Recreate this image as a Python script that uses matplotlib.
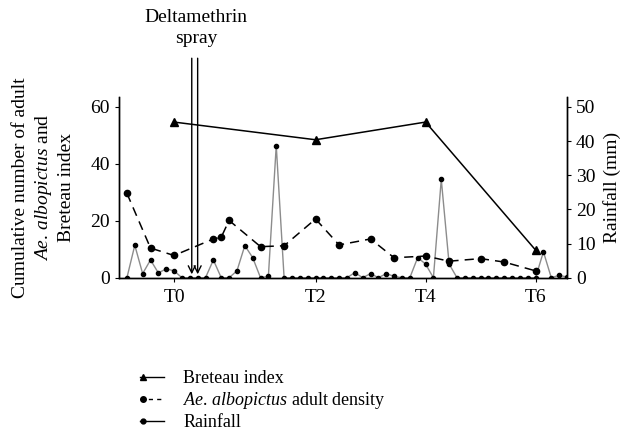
import matplotlib
matplotlib.use("Agg")
import matplotlib.pyplot as plt
from matplotlib.lines import Line2D
from matplotlib.legend_handler import HandlerLine2D

plt.rcParams['font.family'] = ['Liberation Serif', 'DejaVu Serif']
plt.rcParams['mathtext.fontset'] = 'custom'
plt.rcParams['mathtext.it'] = 'Liberation Serif:italic'
plt.rcParams['mathtext.rm'] = 'Liberation Serif'

# sampling index (one step per observation)
rain_mm = [0, 9.5, 1.2, 5.2, 1.4, 2.6, 2.0, 0, 0, 0, 0, 5.2, 0, 0, 2.0, 9.4,
           5.9, 0, 0.4, 38.7, 0, 0, 0, 0, 0, 0, 0, 0, 0, 1.5, 0, 1.2, 0, 1.2,
           0.4, 0, 0, 5.9, 4.0, 0, 28.8, 4.0, 0, 0, 0, 0, 0, 0, 0, 0, 0, 0,
           0, 7.6, 0, 0.7, 0.2]
rain_x = list(range(len(rain_mm)))

density_x = [0, 3, 6, 11, 12, 13, 17, 20, 24, 27, 31, 34, 38, 41, 45, 48, 52]
density = [29.6, 10.4, 7.8, 13.6, 14.2, 20.1, 10.9, 11.2, 20.6, 11.5, 13.6,
           7.0, 7.6, 5.8, 6.7, 5.5, 2.4]

breteau_x = [6, 24, 38, 52]
breteau = [54.6, 48.4, 54.6, 9.7]

tick_pos = [6, 24, 38, 52]
tick_labels = ['T0', 'T2', 'T4', 'T6']


class LeftMarkerHandler(HandlerLine2D):
    # marker at the left end of the legend line, as in the original figure
    def create_artists(self, legend, orig_handle, xdescent, ydescent,
                       width, height, fontsize, trans):
        y = height / 2 - ydescent
        line = Line2D([-xdescent, -xdescent + width], [y, y])
        self.update_prop(line, orig_handle, legend)
        line.set_marker('None')
        mk = Line2D([-xdescent + 2], [y])
        self.update_prop(mk, orig_handle, legend)
        mk.set_linestyle('None')
        line.set_transform(trans)
        mk.set_transform(trans)
        return [line, mk]


fig = plt.figure(figsize=(6.3, 4.37), dpi=100)
ax = fig.add_axes([0.189, 0.3645, 0.711, 0.4142])
ax2 = ax.twinx()

ax2.plot(rain_x, rain_mm, color='#8c8c8c', lw=1.0, marker='o', ms=3.0,
         mfc='black', mec='black', zorder=2)
ax.plot(density_x, density, color='black', lw=1.1, ls=(0, (6, 4)),
        marker='o', ms=4.5, zorder=3)
ax.plot(breteau_x, breteau, color='black', lw=1.1, marker='^', ms=5.5,
        zorder=4)
ax.set_zorder(ax2.get_zorder() + 1)
ax.patch.set_visible(False)

ax.set_xlim(-1, 56)
ax.set_ylim(0, 63.5)
ax2.set_ylim(0, 53)
ax.set_yticks([0, 20, 40, 60])
ax2.set_yticks([0, 10, 20, 30, 40, 50])
ax.set_xticks(tick_pos)
ax.set_xticklabels(tick_labels)

for a in (ax, ax2):
    a.spines['top'].set_visible(False)
    a.tick_params(labelsize=14, length=3, width=0.8, direction='out')
    for s in a.spines.values():
        s.set_linewidth(1.0)
ax.tick_params(axis='x', length=3, pad=5)

ax.set_ylabel('Cumulative number of adult\n$\\mathit{Ae}$. $\\mathit{albopictus}$ and\nBreteau index',
              fontsize=14, linespacing=1.3, labelpad=11)
ax2.set_ylabel('Rainfall (mm)', fontsize=14, labelpad=5)

# spray arrows
for xa in (8.25, 9.0):
    ax.annotate('', xy=(xa, 1.2), xytext=(xa, 77.0), annotation_clip=False,
                arrowprops=dict(arrowstyle='->,head_length=0.5,head_width=0.25',
                                color='black', lw=1.0, shrinkA=0, shrinkB=0))
fig.text(196 / 630, 1 - 28 / 437, 'Deltamethrin\nspray', ha='center', va='center',
         fontsize=14, linespacing=1.25)

handles = [
    Line2D([], [], color='black', lw=1.0, marker='^', ms=5),
    Line2D([], [], color='black', lw=1.0, ls=(0, (3, 3)), marker='o', ms=4),
    Line2D([], [], color='black', lw=1.0, marker='o', ms=3.5),
]
labels = ['Breteau index', '$\\mathit{Ae}$. $\\mathit{albopictus}$ adult density', 'Rainfall']
fig.legend(handles, labels, loc='upper left', bbox_to_anchor=(0.211, 0.17),
           frameon=False, fontsize=13, handlelength=1.3, labelspacing=0.18,
           handletextpad=1.1, borderaxespad=0,
           handler_map={Line2D: LeftMarkerHandler()})

fig.savefig('out.png', dpi=100)
